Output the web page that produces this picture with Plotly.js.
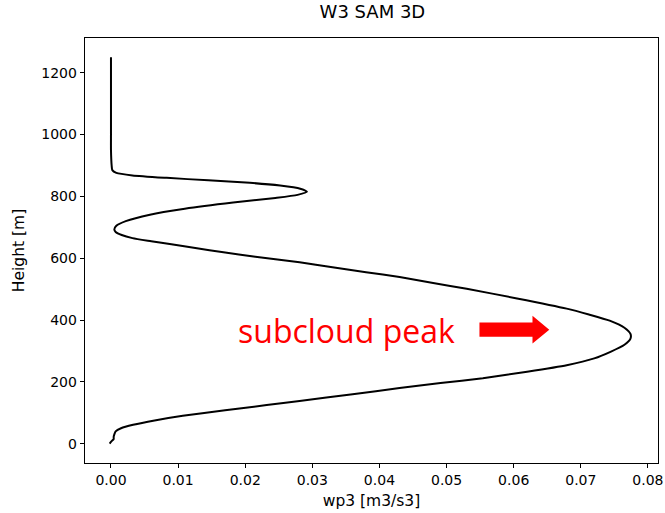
<!DOCTYPE html>
<html>
<head>
<meta charset="utf-8">
<script src="https://cdn.plot.ly/plotly-3.0.1.min.js"></script>
<style>html,body{margin:0;padding:0;background:#fff;}#chart{width:665px;height:513px;}</style>
</head>
<body>
<div id="chart"></div>
<script>
const height = [0, 8, 15, 22, 30, 40, 50, 61, 75, 90, 108, 125, 138, 160, 180, 196, 212, 233, 254, 276, 298, 320, 340, 355, 375, 398, 418, 437, 470, 501, 520, 539, 555, 571, 587, 605, 620, 632, 645, 655, 665, 675, 685, 693, 705, 720, 741, 760, 780, 795, 805, 815, 825, 835, 844, 852, 860, 868, 876, 885, 900, 950, 1000, 1100, 1200, 1250];
const wp3 = [-0.0002, 0.0001, 0.0004, 0.0004, 0.0005, 0.0007, 0.0015, 0.0033, 0.0065, 0.0107, 0.0170, 0.0232, 0.0281, 0.0360, 0.0430, 0.0491, 0.0554, 0.0620, 0.0679, 0.0720, 0.0745, 0.0765, 0.0774, 0.0774, 0.0765, 0.0743, 0.0712, 0.0679, 0.0605, 0.0530, 0.0480, 0.0430, 0.0380, 0.0330, 0.0281, 0.0215, 0.0165, 0.0128, 0.0090, 0.0060, 0.0032, 0.0016, 0.0007, 0.0005, 0.0008, 0.0022, 0.0058, 0.0110, 0.0182, 0.0245, 0.0278, 0.0292, 0.0282, 0.0252, 0.0207, 0.0145, 0.0083, 0.0032, 0.0008, 0.0002, 0.0001, 0.0000, 0.0000, 0.0000, 0.0000, 0.0000];
const xTicks = [0, 0.01, 0.02, 0.03, 0.04, 0.05, 0.06, 0.07, 0.08];
const yTicks = [0, 200, 400, 600, 800, 1000, 1200];
const titleText = "W3 SAM 3D";
const xLabel = "wp3 [m3/s3]";
const yLabel = "Height [m]";
const noteText = "subcloud peak";

const tickFont = {family: "DejaVu Sans", size: 14, color: "#000"};
const trace = {
  x: wp3, y: height, type: "scatter", mode: "lines",
  line: {color: "#000", width: 2, shape: "spline", smoothing: 0.6},
  hoverinfo: "skip"
};
const layout = {
  width: 665, height: 513,
  margin: {l: 85, r: 7, t: 38, b: 50},
  paper_bgcolor: "#fff", plot_bgcolor: "#fff",
  showlegend: false,
  title: {text: titleText, font: {family: "DejaVu Sans", size: 18, color: "#000"}, x: 0.56, xanchor: "center", y: 0.99, yanchor: "top"},
  xaxis: {
    range: [-0.00387, 0.0815], tickvals: xTicks, tickformat: ".2f", ticklabeloverflow: "allow",
    showgrid: false, zeroline: false, showline: true, mirror: true, linecolor: "#000", linewidth: 1.3,
    ticks: "outside", ticklen: 4, tickcolor: "#000", tickfont: tickFont,
    title: {text: xLabel, font: {family: "DejaVu Sans", size: 15.5, color: "#000"}, standoff: 8}
  },
  yaxis: {
    range: [-62.5, 1312.5], tickvals: yTicks,
    showgrid: false, zeroline: false, showline: true, mirror: true, linecolor: "#000", linewidth: 1.3,
    ticks: "outside", ticklen: 4, tickcolor: "#000", tickfont: tickFont,
    title: {text: yLabel, font: {family: "DejaVu Sans", size: 15.5, color: "#000"}, standoff: 12}
  },
  annotations: [{
    text: noteText, xref: "x", yref: "y", x: 0.0351, y: 366, showarrow: false,
    xanchor: "center", yanchor: "middle",
    font: {family: "Open Sans", size: 32, color: "#ff0000"}
  }],
  shapes: [{
    type: "path", xref: "x", yref: "y",
    path: "M0.0549,392 L0.0628,392 L0.0628,414 L0.0653,369 L0.0628,324 L0.0628,346 L0.0549,346 Z",
    fillcolor: "#ff0000", line: {width: 0}
  }]
};
Plotly.newPlot("chart", [trace], layout, {staticPlot: true, displayModeBar: false});
</script>
</body>
</html>
